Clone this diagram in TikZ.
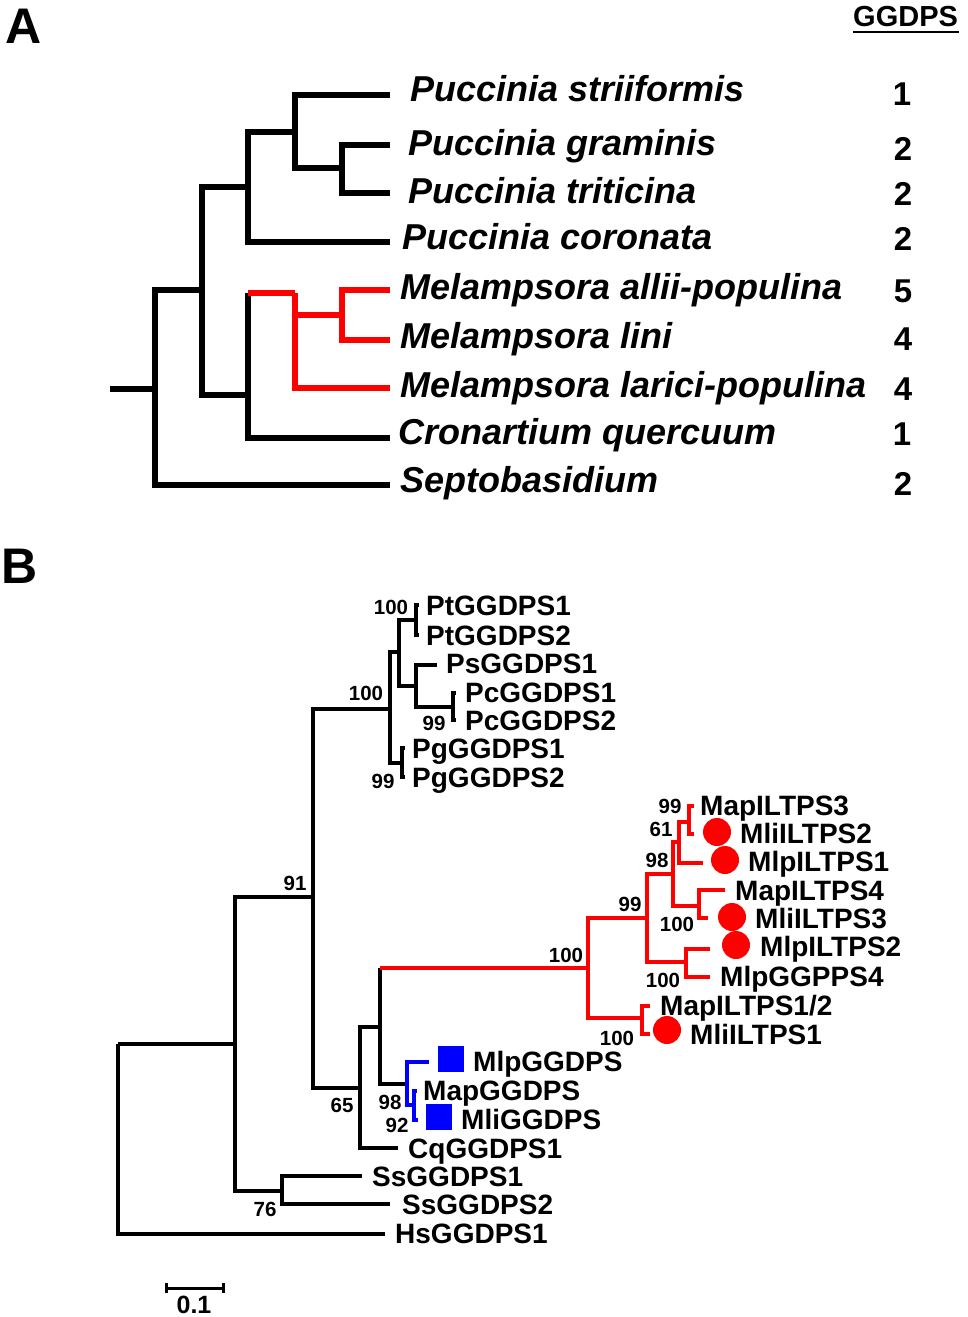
\documentclass[tikz,border=0pt]{standalone}
\usepackage{fontspec}
\setmainfont{Liberation Sans}
\definecolor{tred}{RGB}{255,0,0}
\definecolor{tblue}{RGB}{0,0,255}
\begin{document}
\begin{tikzpicture}[x=1pt,y=-1pt,
  treeA/.style={line width=5.2pt},
  treeB/.style={line width=3.2pt},
  labA/.style={anchor=base west,inner sep=0pt,font=\fontsize{36}{40}\selectfont\bfseries\itshape},
  numA/.style={anchor=base,inner sep=0pt,font=\fontsize{33}{38}\selectfont\bfseries},
  labB/.style={anchor=base west,inner sep=0pt,font=\fontsize{28}{32}\selectfont\bfseries},
  bsB/.style={inner sep=0pt,font=\fontsize{20.5}{24}\selectfont\bfseries},
  panel/.style={inner sep=0pt,font=\fontsize{50}{54}\selectfont\bfseries},
  dotR/.style={circle,fill=tred,minimum size=28pt,inner sep=0pt},
  sqB/.style={rectangle,fill=tblue,minimum size=26pt,inner sep=0pt},
]
\useasboundingbox (0,0) rectangle (968,1317);

% ---------------- Panel A ----------------
\node[panel] (pA) at (24,26) {A};
\node[anchor=base west,inner sep=0pt,font=\fontsize{29}{32}\selectfont\bfseries] (hdr) at (853,26) {GGDPS};
\coordinate (hdrL) at (853,32);
\coordinate (hdrR) at (959,32);
\draw[line width=2.8pt] (hdrL) -- (hdrR);

\coordinate (aS) at (110,389);
\coordinate (aR) at (155,389);
\coordinate (a1) at (202,290);
\coordinate (a2) at (248,187);
\coordinate (a3) at (248,395);
\coordinate (a3t) at (248,293);
\coordinate (a4) at (295,132);
\coordinate (a5) at (342,168);
\coordinate (a6) at (295,293);
\coordinate (a7) at (342,315);
\coordinate (lStr) at (390,95);
\coordinate (lGra) at (390,145);
\coordinate (lTri) at (390,193);
\coordinate (lCor) at (390,242);
\coordinate (lAll) at (390,290);
\coordinate (lLin) at (390,340);
\coordinate (lLar) at (390,388);
\coordinate (lCro) at (390,438);
\coordinate (lSep) at (390,485);

\draw[treeA] (aS) -- (aR);
\draw[treeA] (aR) |- (a1);
\draw[treeA] (aR) |- (lSep);
\draw[treeA] (a1) |- (a2);
\draw[treeA] (a1) |- (a3);
\draw[treeA] (a2) |- (a4);
\draw[treeA] (a2) |- (lCor);
\draw[treeA] (a4) |- (lStr);
\draw[treeA] (a4) |- (a5);
\draw[treeA] (a5) |- (lGra);
\draw[treeA] (a5) |- (lTri);
\draw[treeA] (a3) -- (a3t);
\draw[treeA] (a3) |- (lCro);
\draw[treeA,tred] (a3t) -- (a6);
\draw[treeA,tred] (a6) |- (a7);
\draw[treeA,tred] (a6) |- (lLar);
\draw[treeA,tred] (a7) |- (lAll);
\draw[treeA,tred] (a7) |- (lLin);

\node[labA] (tStr) at (410,101) {Puccinia striiformis};
\node[labA] (tGra) at (408,155) {Puccinia graminis};
\node[labA] (tTri) at (408,203) {Puccinia triticina};
\node[labA] (tCor) at (402,249) {Puccinia coronata};
\node[labA] (tAll) at (400,299) {Melampsora allii-populina};
\node[labA] (tLin) at (400,348) {Melampsora lini};
\node[labA] (tLar) at (400,397) {Melampsora larici-populina};
\node[labA] (tCro) at (398,444) {Cronartium quercuum};
\node[labA] (tSep) at (400,492) {Septobasidium};

\node[numA] (nStr) at (902,105) {1};
\node[numA] (nGra) at (903,160) {2};
\node[numA] (nTri) at (903,205) {2};
\node[numA] (nCor) at (903,250) {2};
\node[numA] (nAll) at (903,302) {5};
\node[numA] (nLin) at (903,350) {4};
\node[numA] (nLar) at (903,400) {4};
\node[numA] (nCro) at (902,445) {1};
\node[numA] (nSep) at (903,495) {2};

% ---------------- Panel B ----------------
\node[panel] (pB) at (20,566) {B};

\coordinate (R) at (118,1044);
\coordinate (b1) at (235,1044);
\coordinate (b2) at (313,897);
\coordinate (b3) at (282,1191);
\coordinate (b4) at (390,709);
\coordinate (b5) at (360,1088);
\coordinate (b6) at (399,652);
\coordinate (b7) at (402,763);
\coordinate (b8) at (416,620);
\coordinate (b9) at (416,686);
\coordinate (b10) at (453,707);
\coordinate (b11) at (380,1027);
\coordinate (b11r) at (380,968);
\coordinate (bR) at (588,968);
\coordinate (bB) at (407,1084);
\coordinate (bB2) at (414,1105);
\coordinate (r1) at (647,918);
\coordinate (r2) at (642,1018);
\coordinate (r3) at (673,874);
\coordinate (r4) at (686,962);
\coordinate (r5) at (679,842);
\coordinate (r6) at (699,906);
\coordinate (r7) at (689,822);

\coordinate (lPt1) at (419,605);
\coordinate (lPt2) at (419,635);
\coordinate (lPs1) at (437,665);
\coordinate (lPc1) at (456,693);
\coordinate (lPc2) at (456,720);
\coordinate (lPg1) at (405,748);
\coordinate (lPg2) at (405,777);
\coordinate (lHs) at (385,1234);
\coordinate (lSs1) at (362,1176);
\coordinate (lSs2) at (390,1204);
\coordinate (lCq) at (398,1148);
\coordinate (lMlpG) at (429,1062);
\coordinate (lMapG) at (417,1091);
\coordinate (lMliG) at (418,1120);
\coordinate (lMapL3) at (694,806);
\coordinate (lMliL2) at (694,834);
\coordinate (lMlpL1) at (703,863);
\coordinate (lMapL4) at (725,890);
\coordinate (lMliL3) at (708,918);
\coordinate (lMlpL2) at (710,949);
\coordinate (lMlpG4) at (710,977);
\coordinate (lMapL12) at (650,1006);
\coordinate (lMliL1) at (650,1034);

\draw[treeB] (R) -- (b1);
\draw[treeB] (R) |- (lHs);
\draw[treeB] (b1) |- (b2);
\draw[treeB] (b1) |- (b3);
\draw[treeB] (b3) |- (lSs1);
\draw[treeB] (b3) |- (lSs2);
\draw[treeB] (b2) |- (b4);
\draw[treeB] (b2) |- (b5);
\draw[treeB] (b4) |- (b6);
\draw[treeB] (b4) |- (b7);
\draw[treeB] (b6) |- (b8);
\draw[treeB] (b6) |- (b9);
\draw[treeB] (b8) |- (lPt1);
\draw[treeB] (b8) |- (lPt2);
\draw[treeB] (b9) |- (lPs1);
\draw[treeB] (b9) |- (b10);
\draw[treeB] (b10) |- (lPc1);
\draw[treeB] (b10) |- (lPc2);
\draw[treeB] (b7) |- (lPg1);
\draw[treeB] (b7) |- (lPg2);
\draw[treeB] (b5) |- (b11);
\draw[treeB] (b5) |- (lCq);
\draw[treeB] (b11) |- (b11r);
\draw[treeB] (b11) |- (bB);
\draw[treeB,tred] (b11r) -- (bR);
\draw[treeB,tblue] (bB) |- (lMlpG);
\draw[treeB,tblue] (bB) |- (bB2);
\draw[treeB,tblue] (bB2) |- (lMapG);
\draw[treeB,tblue] (bB2) |- (lMliG);
\draw[treeB,tred] (bR) |- (r1);
\draw[treeB,tred] (bR) |- (r2);
\draw[treeB,tred] (r2) |- (lMapL12);
\draw[treeB,tred] (r2) |- (lMliL1);
\draw[treeB,tred] (r1) |- (r3);
\draw[treeB,tred] (r1) |- (r4);
\draw[treeB,tred] (r4) |- (lMlpL2);
\draw[treeB,tred] (r4) |- (lMlpG4);
\draw[treeB,tred] (r3) |- (r5);
\draw[treeB,tred] (r3) |- (r6);
\draw[treeB,tred] (r6) |- (lMapL4);
\draw[treeB,tred] (r6) |- (lMliL3);
\draw[treeB,tred] (r5) |- (r7);
\draw[treeB,tred] (r5) |- (lMlpL1);
\draw[treeB,tred] (r7) |- (lMapL3);
\draw[treeB,tred] (r7) |- (lMliL2);

% markers
\node[dotR] (cMliL2) at (717,832) {};
\node[dotR] (cMlpL1) at (725,860) {};
\node[dotR] (cMliL3) at (732,917) {};
\node[dotR] (cMlpL2) at (736,945) {};
\node[dotR] (cMliL1) at (667,1030) {};
\node[sqB] (sMlpG) at (451,1059) {};
\node[sqB] (sMliG) at (439,1117) {};

% leaf labels
\node[labB] (tPt1) at (426,615) {PtGGDPS1};
\node[labB] (tPt2) at (426,645) {PtGGDPS2};
\node[labB] (tPs1) at (446,673) {PsGGDPS1};
\node[labB] (tPc1) at (465,702) {PcGGDPS1};
\node[labB] (tPc2) at (465,730) {PcGGDPS2};
\node[labB] (tPg1) at (412,758) {PgGGDPS1};
\node[labB] (tPg2) at (412,787) {PgGGDPS2};
\node[labB] (tMapL3) at (700,815) {MapILTPS3};
\node[labB] (tMliL2) at (740,843) {MliILTPS2};
\node[labB] (tMlpL1) at (748,871) {MlpILTPS1};
\node[labB] (tMapL4) at (735,900) {MapILTPS4};
\node[labB] (tMliL3) at (755,928) {MliILTPS3};
\node[labB] (tMlpL2) at (760,956) {MlpILTPS2};
\node[labB] (tMlpG4) at (720,986) {MlpGGPPS4};
\node[labB] (tMapL12) at (660,1015) {MapILTPS1/2};
\node[labB] (tMliL1) at (690,1044) {MliILTPS1};
\node[labB] (tMlpG) at (473,1071) {MlpGGDPS};
\node[labB] (tMapG) at (423,1100) {MapGGDPS};
\node[labB] (tMliG) at (461,1129) {MliGGDPS};
\node[labB] (tCq) at (408,1158) {CqGGDPS1};
\node[labB] (tSs1) at (372,1186) {SsGGDPS1};
\node[labB] (tSs2) at (402,1214) {SsGGDPS2};
\node[labB] (tHs) at (395,1243) {HsGGDPS1};

% bootstrap values
\node[bsB] (v1) at (391,607) {100};
\node[bsB] (v2) at (366,693) {100};
\node[bsB] (v3) at (434,723) {99};
\node[bsB] (v4) at (383,781) {99};
\node[bsB] (v5) at (295,883) {91};
\node[bsB] (v6) at (342,1105) {65};
\node[bsB] (v7) at (265,1209) {76};
\node[bsB] (v8) at (390,1102) {98};
\node[bsB] (v9) at (397,1125) {92};
\node[bsB] (v10) at (566,955) {100};
\node[bsB] (v11) at (630,904) {99};
\node[bsB] (v12) at (657,860) {98};
\node[bsB] (v13) at (661,829) {61};
\node[bsB] (v14) at (670,806) {99};
\node[bsB] (v15) at (677,924) {100};
\node[bsB] (v16) at (663,980) {100};
\node[bsB] (v17) at (617,1038) {100};

% scale bar
\coordinate (sbL) at (166,1288);
\coordinate (sbR) at (223,1288);
\draw[line width=3pt] (sbL) -- (sbR);
\draw[line width=3pt] ([yshift=5pt]sbL) -- ([yshift=-5pt]sbL);
\draw[line width=3pt] ([yshift=5pt]sbR) -- ([yshift=-5pt]sbR);
\node[inner sep=0pt,font=\fontsize{25}{28}\selectfont\bfseries] (sbT) at (194,1305) {0.1};
\end{tikzpicture}
\end{document}
